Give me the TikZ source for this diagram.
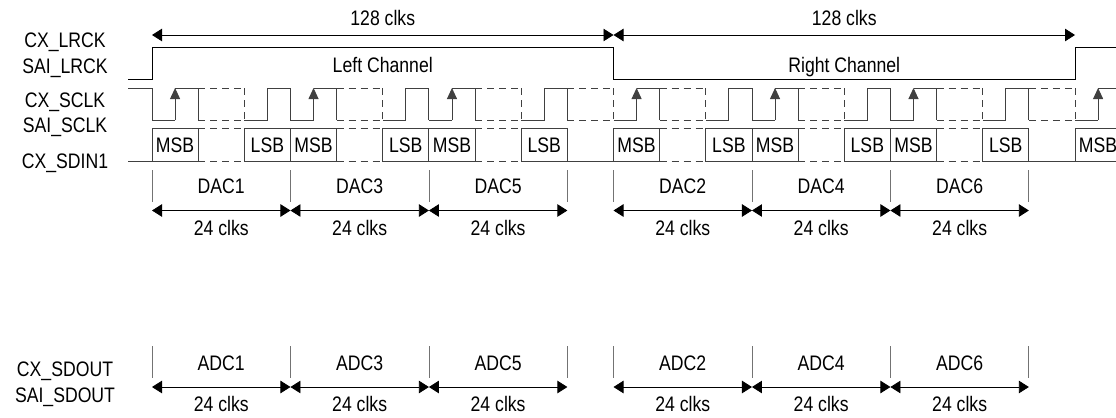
\documentclass[tikz,border=0pt]{standalone}
\usepackage{fontspec}
\setmainfont{Liberation Sans}[FakeStretch=0.84]
\usetikzlibrary{positioning,arrows.meta}

\tikzset{
  wave/.style={line width=0.9pt, black!75},
  dashwave/.style={wave, dash pattern=on 7pt off 5pt},
  clkrise/.style={wave, -{Triangle[length=11pt,width=10pt]}},
  dimline/.style={line width=0.8pt, {Triangle[length=10pt,width=12.5pt]}-{Triangle[length=10pt,width=12.5pt]}},
  tickline/.style={line width=0.8pt, black!55},
  bitbox/.style={draw=black!75, line width=0.9pt, minimum width=46.15pt, minimum height=33pt, inner sep=0pt, text height=15pt, text depth=0pt},
  signame/.style={anchor=base, inner sep=0pt},
  txt/.style={anchor=base, inner sep=0pt},
  dimtext/.style={anchor=base, inner sep=0pt},
}

\begin{document}
\begin{tikzpicture}[x=46.15pt, y=-1pt, font=\fontsize{21}{24}\selectfont]
\useasboundingbox (-3.2936,0) rectangle (20.888,417);

% signal names
\node[signame] (lrck)   at (-1.885,48)  {CX\_LRCK};
\node[signame] (sailr)  at (-1.885,74)  {SAI\_LRCK};
\node[signame] (sclk)   at (-1.885,107) {CX\_SCLK};
\node[signame] (saisc)  at (-1.885,132) {SAI\_SCLK};
\node[signame] (sdin)   at (-1.885,168) {CX\_SDIN1};
\node[signame] (sdout)  at (-1.885,376) {CX\_SDOUT};
\node[signame] (saisd)  at (-1.885,402) {SAI\_SDOUT};

% frame
\coordinate (f0) at (0,35);
\coordinate (f1) at (10,35);
\coordinate (f2) at (20,35);
\draw[dimline] (f0) -- node[dimtext, yshift=9pt] (fl) {128 clks} (f1);
\draw[dimline] (f1) -- node[dimtext, yshift=9pt] (fr) {128 clks} (f2);
\draw[line width=0.9pt] (-0.52,79) -- (0,79) -- (0,47) -- (10,47) -- (10,79) -- (20,79) -- (20,47) -- (20.9,47);
\node[txt] (left)  at (5,72)  {Left Channel};
\node[txt] (right) at (15,72) {Right Channel};

% clock and data, lead in
\draw[wave] (-0.52,88) -- (0,88) -- (0,120);
\draw[wave] (-0.52,161) -- (0,161);

\foreach \o [count=\c from 0] in {0,10} {
  \foreach \s [count=\k] in {0,3,6} {
    \pgfmathsetmacro\a{\o+\s}
    \draw[wave] (\a,120) -- (\a+0.5,120);
    \draw[clkrise] (\a+0.5,120) -- (\a+0.5,88);
    \draw[wave] (\a+0.5,88) -- (\a+1,88) -- (\a+1,120);
    \draw[dashwave] (\a+1,88) -- (\a+2,88) (\a+1,120) -- (\a+2,120) (\a+2,88) -- (\a+2,120);
    \draw[wave] (\a+2,120) -- (\a+2.5,120) -- (\a+2.5,88) -- (\a+3,88) -- (\a+3,120);
    \node[bitbox] (msb\c\k) at (\a+0.5,144.5) {MSB};
    \draw[dashwave] (\a+1,128) -- (\a+2,128) (\a+1,161) -- (\a+2,161);
    \node[bitbox] (lsb\c\k) at (\a+2.5,144.5) {LSB};
  }
  \draw[dashwave] (\o+9,88) -- (\o+10,88) (\o+9,120) -- (\o+10,120) (\o+10,88) -- (\o+10,120);
  \draw[wave] (\o+9,161) -- (\o+10,161);
  % slot marks
  \foreach \k in {0,...,3} {
    \coordinate (d\c\k) at (\o+3*\k,210.5);
    \coordinate (a\c\k) at (\o+3*\k,387);
    \draw[tickline] (\o+3*\k,170) -- (\o+3*\k,202);
    \draw[tickline] (\o+3*\k,346) -- (\o+3*\k,378);
  }
  \foreach \k [count=\kk] in {0,1,2} {
    \pgfmathtruncatemacro\n{2*\k+1+\c}
    \node[txt] (dac\n) at (\o+3*\k+1.5,193) {DAC\n};
    \node[txt] (adc\n) at (\o+3*\k+1.5,370) {ADC\n};
    \draw[dimline] (d\c\k) -- node[dimtext, yshift=-24.5pt] (dn\c\k) {24 clks} (d\c\kk);
    \draw[dimline] (a\c\k) -- node[dimtext, yshift=-24pt] (an\c\k) {24 clks} (a\c\kk);
  }
}

% next frame
\draw[wave] (20,120) -- (20.5,120);
\draw[clkrise] (20.5,120) -- (20.5,88);
\draw[wave] (20.5,88) -- (20.9,88);
\node[bitbox] (msbnext) at (20.5,144.5) {MSB};
\end{tikzpicture}
\end{document}
